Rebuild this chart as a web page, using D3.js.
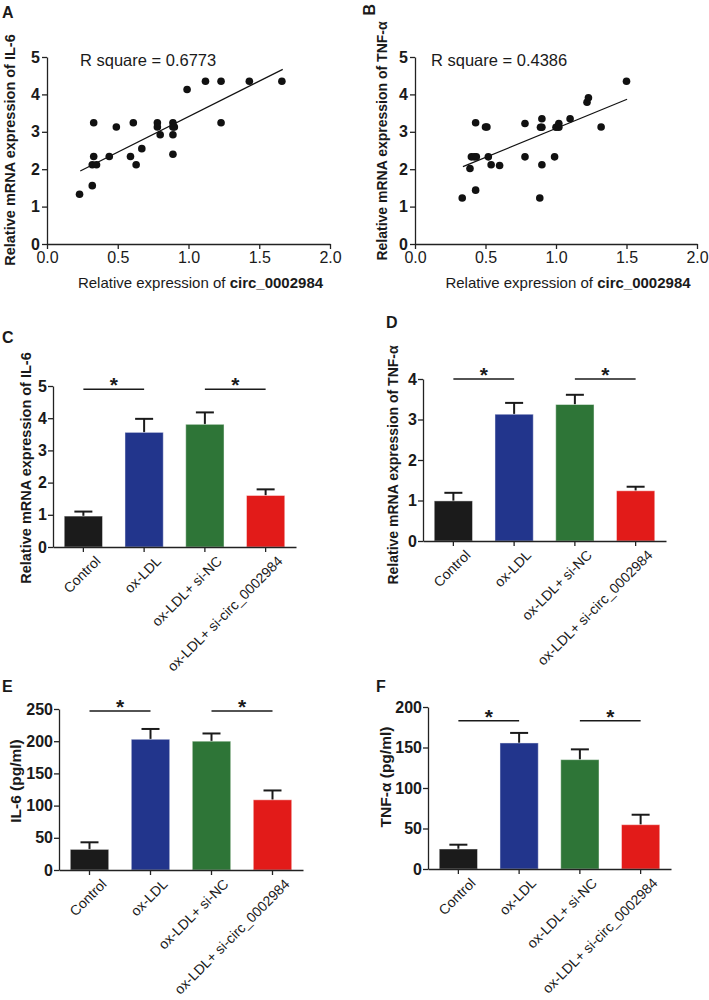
<!DOCTYPE html>
<html><head><meta charset="utf-8">
<script src="https://cdn.jsdelivr.net/npm/d3@7"></script>
<style>
body{margin:0;background:#fff}
svg{display:block}
text{font-family:"Liberation Sans",Arial,Helvetica,sans-serif;fill:#1a1a1a}
</style>
</head><body>
<svg id="chart" width="709" height="1000"></svg>
<script>
// ---------- DATA ----------
// Panel A: circ_0002984 vs IL-6 mRNA
const il6CircX = [0.23,0.32,0.33,0.33,0.32,0.35,0.44,0.49,0.59,0.61,0.63,0.67,0.78,0.78,0.80,0.89,0.89,0.90,0.89,0.89,0.99,1.12,1.23,1.23,1.43,1.66];
const il6MrnaY = [1.33,1.56,3.24,2.34,2.12,2.12,2.34,3.13,2.34,3.24,2.12,2.55,3.24,3.13,2.92,3.24,3.13,3.13,2.92,2.40,4.13,4.35,4.35,3.24,4.35,4.35];
const il6FitLine = [[0.235,1.95],[1.666,4.67]];
const il6RSquare = "R square = 0.6773";
// Panel B: circ_0002984 vs TNF-α mRNA
const tnfCircX = [0.335,0.39,0.40,0.42,0.435,0.43,0.43,0.50,0.51,0.52,0.54,0.60,0.78,0.78,0.885,0.90,0.89,0.90,0.90,0.99,1.00,1.02,1.02,1.10,1.22,1.23,1.32,1.50];
const tnfMrnaY = [1.23,2.02,2.33,2.33,2.33,3.24,1.44,3.13,3.13,2.33,2.12,2.10,3.22,2.33,1.23,3.35,3.12,3.12,2.12,2.33,3.12,3.12,3.22,3.35,3.79,3.91,3.13,4.35];
const tnfFitLine = [[0.34,2.07],[1.504,3.87]];
const tnfRSquare = "R square = 0.4386";
const scatterXTicks = [0,0.5,1,1.5,2];
const scatterYTicks = [0,1,2,3,4,5];

// Bar panels
const groups = ["Control","ox-LDL","ox-LDL+ si-NC","ox-LDL+ si-circ_0002984"];
const groupColors = ["#1b1b1b","#22358c","#2e7537","#e21b19"];
const il6MrnaMean = [0.96,3.56,3.81,1.60];
const il6MrnaSD   = [0.14,0.42,0.37,0.19];
const tnfMrnaMean = [0.99,3.13,3.37,1.24];
const tnfMrnaSD   = [0.20,0.28,0.24,0.10];
const il6ProtMean = [32,203,200,109];
const il6ProtSD   = [11,16,12,14.5];
const tnfProtMean = [24.7,155.6,135,54.7];
const tnfProtSD   = [5.3,12.4,12.7,12.3];
const il6MrnaTicks = [0,1,2,3,4,5];
const tnfMrnaTicks = [0,1,2,3,4];
const il6ProtTicks = [0,50,100,150,200,250];
const tnfProtTicks = [0,50,100,150,200];
const sigPairs = [[0,1],[2,3]];
const sigLevelC = 4.9, sigLevelD = 4.0, sigLevelE = 247, sigLevelF = 183;

// ---------- DRAW ----------
const svg = d3.select("#chart");
svg.append("rect").attr("width",709).attr("height",1000).attr("fill","#fff");
const AX = "#222";

function styleAxis(g){
  g.select(".domain").attr("stroke",AX).attr("stroke-width",1.3);
  g.selectAll(".tick line").attr("stroke",AX).attr("stroke-width",1.3);
}

function letter(t,x,y,rot){
  const el = svg.append("text").attr("font-size",16).attr("font-weight","bold").text(t);
  if(rot){ el.attr("transform",`translate(${x},${y}) rotate(-90)`).attr("text-anchor","end"); }
  else el.attr("x",x).attr("y",y);
}

function ylab(t,cx,cy,size){
  svg.append("text").attr("transform",`translate(${cx},${cy}) rotate(-90)`)
    .attr("text-anchor","middle").attr("dy","0.35em")
    .attr("font-size",size||15).attr("font-weight","bold").text(t);
}

function scatter(o){
  const x = d3.scaleLinear().domain([0,2]).range([o.x0,o.x1]);
  const y = d3.scaleLinear().domain([0,5]).range([o.y0,o.y1]);
  const gy = svg.append("g").attr("transform",`translate(${o.x0},0)`)
    .call(d3.axisLeft(y).tickValues(scatterYTicks).tickFormat(d3.format("d")).tickSize(5).tickSizeOuter(0).tickPadding(2));
  styleAxis(gy);
  gy.selectAll(".tick text").attr("font-size",16).attr("font-weight","bold").attr("fill","#1a1a1a")
    .attr("font-family",'"Liberation Sans",Arial,sans-serif');
  const gx = svg.append("g").attr("transform",`translate(0,${o.y0})`)
    .call(d3.axisBottom(x).tickValues(scatterXTicks).tickFormat(d3.format(".1f")).tickSize(5).tickSizeOuter(0).tickPadding(3));
  styleAxis(gx);
  gx.selectAll(".tick text").attr("font-size",16).attr("fill","#1a1a1a")
    .attr("font-family",'"Liberation Sans",Arial,sans-serif');
  // fit line
  svg.append("line").attr("x1",x(o.fit[0][0])).attr("y1",y(o.fit[0][1]))
    .attr("x2",x(o.fit[1][0])).attr("y2",y(o.fit[1][1]))
    .attr("stroke","#111").attr("stroke-width",1.2);
  svg.append("g").selectAll("circle").data(o.xs.map((d,i)=>[d,o.ys[i]])).join("circle")
    .attr("cx",d=>x(d[0])).attr("cy",d=>y(d[1])).attr("r",3.8).attr("fill","#111");
  svg.append("text").attr("x",o.x0+o.rdx).attr("y",o.y1+o.rdy).attr("font-size",16.5).text(o.rtext);
  const xl = svg.append("text").attr("x",(o.x0+o.x1)/2+o.xlOff).attr("y",o.y0+44).attr("text-anchor","middle").attr("font-size",15);
  xl.append("tspan").text("Relative expression of ");
  xl.append("tspan").attr("font-weight","bold").text("circ_0002984");
}

scatter({x0:47,x1:330,y0:244,y1:57,xs:il6CircX,ys:il6MrnaY,fit:il6FitLine,rtext:il6RSquare,rdx:33,rdy:9,xlOff:12});
scatter({x0:415,x1:697,y0:244,y1:57,xs:tnfCircX,ys:tnfMrnaY,fit:tnfFitLine,rtext:tnfRSquare,rdx:16,rdy:9,xlOff:12});
letter("A",2,18);
letter("B",375,4,true);
ylab("Relative mRNA expression of IL-6",10,150,14.5);
ylab("Relative mRNA expression of TNF-α",382,141,14);

function bars(o){
  const x = d3.scaleBand().domain(groups).range([o.x0,o.x1]).paddingInner(0.37).paddingOuter(0.185);
  const y = d3.scaleLinear().domain(o.domain).range([o.y0,o.y1]);
  const gy = svg.append("g").attr("transform",`translate(${o.x0},0)`)
    .call(d3.axisLeft(y).tickValues(o.ticks).tickFormat(d3.format("d")).tickSize(5).tickSizeOuter(0).tickPadding(1));
  styleAxis(gy);
  gy.selectAll(".tick text").attr("font-size",16).attr("font-weight","bold").attr("fill","#1a1a1a")
    .attr("font-family",'"Liberation Sans",Arial,sans-serif');
  const bw = x.bandwidth();
  // error bars (upper)
  const eg = svg.append("g");
  groups.forEach((gname,i)=>{
    const cx = x(gname)+bw/2;
    const top = y(o.mean[i]+o.sd[i]);
    eg.append("line").attr("x1",cx).attr("x2",cx).attr("y1",y(o.mean[i])).attr("y2",top)
      .attr("stroke","#1a1a1a").attr("stroke-width",2);
    eg.append("line").attr("x1",cx-9).attr("x2",cx+9).attr("y1",top).attr("y2",top)
      .attr("stroke","#1a1a1a").attr("stroke-width",2);
  });
  svg.append("g").selectAll("rect").data(groups).join("rect")
    .attr("x",d=>x(d)).attr("width",bw)
    .attr("y",(d,i)=>y(o.mean[i])).attr("height",(d,i)=>y(0)-y(o.mean[i]))
    .attr("fill",(d,i)=>groupColors[i])
    .attr("stroke","rgba(255,255,255,0.45)").attr("stroke-width",1);
  const gx = svg.append("g").attr("transform",`translate(0,${o.y0})`)
    .call(d3.axisBottom(x).tickSize(5).tickSizeOuter(0).tickFormat(""));
  styleAxis(gx);
  // rotated labels
  svg.append("g").selectAll("text").data(groups).join("text")
    .attr("transform",d=>`translate(${x(d)+bw/2+18},${o.y0+15}) rotate(-45)`)
    .attr("text-anchor","end").attr("font-size",14).text(d=>d);
  // significance
  sigPairs.forEach(p=>{
    const a = x(groups[p[0]])+bw/2, b = x(groups[p[1]])+bw/2, ly = y(o.sig);
    svg.append("line").attr("x1",a).attr("x2",b).attr("y1",ly).attr("y2",ly)
      .attr("stroke","#1a1a1a").attr("stroke-width",1.6);
    svg.append("text").attr("x",(a+b)/2).attr("y",ly+3).attr("text-anchor","middle")
      .attr("font-size",21).attr("font-weight","bold").text("*");
  });
  ylab(o.ylabel,o.ylx,o.yly,o.yls);
  letter(o.letter,o.lx,o.ly);
}

bars({x0:53,x1:296,y0:547,y1:386,domain:[0,5],ticks:il6MrnaTicks,mean:il6MrnaMean,sd:il6MrnaSD,sig:sigLevelC,
  ylabel:"Relative mRNA expression of IL-6",ylx:26,yly:468,yls:14.5,letter:"C",lx:2,ly:343});
bars({x0:423,x1:666,y0:541,y1:379,domain:[0,4],ticks:tnfMrnaTicks,mean:tnfMrnaMean,sd:tnfMrnaSD,sig:sigLevelD,
  ylabel:"Relative mRNA expression of TNF-α",ylx:393,yly:465,yls:14,letter:"D",lx:386,ly:328});
bars({x0:59,x1:303,y0:870,y1:709,domain:[0,250],ticks:il6ProtTicks,mean:il6ProtMean,sd:il6ProtSD,sig:sigLevelE,
  ylabel:"IL-6 (pg/ml)",ylx:16,yly:781,yls:15.5,letter:"E",lx:2,ly:692});
bars({x0:428,x1:671,y0:869,y1:707,domain:[0,200],ticks:tnfProtTicks,mean:tnfProtMean,sd:tnfProtSD,sig:sigLevelF,
  ylabel:"TNF-α (pg/ml)",ylx:386,yly:777,yls:15.5,letter:"F",lx:376,ly:692});
</script>
</body></html>
